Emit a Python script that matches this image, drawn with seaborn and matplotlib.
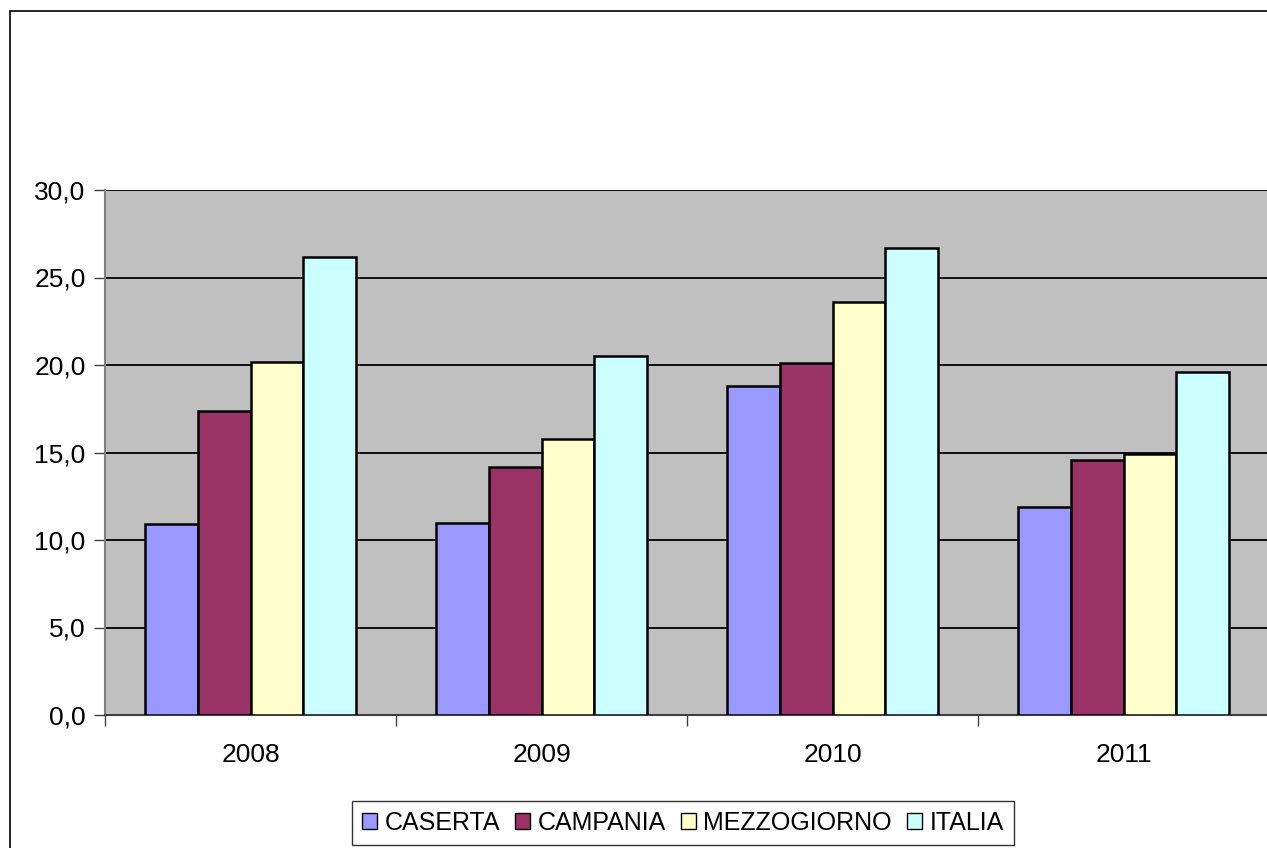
import seaborn as sns
import matplotlib.pyplot as plt
import matplotlib.patches as mpatches
import pandas as pd

# Data
years = ['2008', '2009', '2010', '2011']
areas = ['CASERTA', 'CAMPANIA', 'MEZZOGIORNO', 'ITALIA']
caserta = [10.9, 11.0, 18.8, 11.9]
campania = [17.4, 14.2, 20.1, 14.6]
mezzogiorno = [20.2, 15.8, 23.6, 14.9]
italia = [26.2, 20.5, 26.7, 19.6]

colors = ['#9999FF', '#993366', '#FFFFCC', '#CCFFFF']

rows = []
for area, vals in zip(areas, [caserta, campania, mezzogiorno, italia]):
    for y, v in zip(years, vals):
        rows.append({'Anno': y, 'Area': area, 'Valore': v})
df = pd.DataFrame(rows)

sns.set_style('white')
plt.rcParams['font.family'] = ['Liberation Sans', 'DejaVu Sans']
plt.rcParams['text.color'] = 'black'

fig = plt.figure(figsize=(12.67, 8.48), dpi=100)
ax = fig.add_axes([105 / 1267, 1 - 715 / 848, 1164 / 1267, 525 / 848])

sns.barplot(data=df, x='Anno', y='Valore', hue='Area', hue_order=areas,
            order=years, palette=colors, width=0.725, edgecolor='black',
            linewidth=1.8, saturation=1, legend=False, ax=ax, zorder=3)

ax.set_facecolor('#C0C0C0')
ax.set_ylim(0, 30)
ax.set_xlim(-0.5, 3.5)
ax.set_yticks(range(0, 31, 5))
ax.set_yticklabels([f'{v},0' for v in range(0, 31, 5)])
ax.yaxis.grid(True, color='black', linewidth=1.3, zorder=1)
ax.set_axisbelow(True)
ax.set_xlabel('')
ax.set_ylabel('')

# category boundary ticks on x axis
ax.set_xticks([-0.5, 0.5, 1.5, 2.5, 3.5], minor=True)
ax.tick_params(axis='x', which='minor', direction='out', length=8,
               width=1, color='#404040', bottom=True)
ax.tick_params(axis='x', which='major', length=0, labelsize=19, pad=20,
               labelcolor='black')
ax.tick_params(axis='y', direction='out', length=8, width=1,
               color='#404040', labelsize=19, pad=6, left=True,
               labelcolor='black')

for side in ['top', 'right']:
    ax.spines[side].set_visible(False)
ax.spines['left'].set_color('#808080')
ax.spines['bottom'].set_color('#404040')
ax.spines['left'].set_linewidth(1.5)
ax.spines['bottom'].set_linewidth(1.5)

# outer chart frame
frame = mpatches.Rectangle((10 / 1267, -0.05), 1.1, 1 - 11 / 848 + 0.05,
                           transform=fig.transFigure, fill=False,
                           edgecolor='black', linewidth=1.2)
fig.patches.append(frame)

handles = [mpatches.Patch(facecolor=c, edgecolor='black', linewidth=1.0, label=a)
           for a, c in zip(areas, colors)]
leg = fig.legend(handles=handles, loc='center', bbox_to_anchor=(683 / 1267, 1 - 823 / 848),
                 ncol=4, frameon=True, fontsize=18, handlelength=0.6, handleheight=0.6,
                 handletextpad=0.3, columnspacing=0.6, borderpad=0.4, fancybox=False)
leg.get_frame().set_edgecolor('black')
leg.get_frame().set_linewidth(1.0)

plt.savefig('out.png', dpi=100)
